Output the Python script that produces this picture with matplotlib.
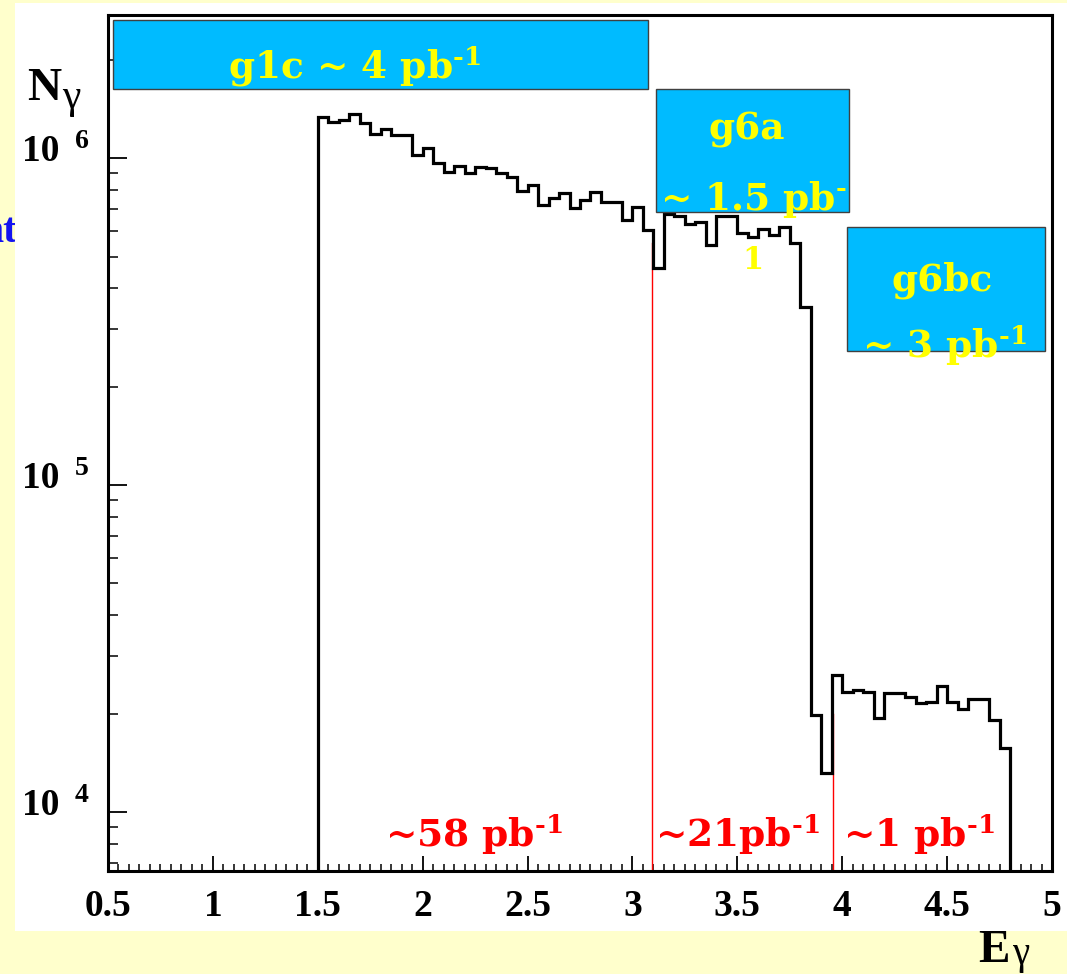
import numpy as np
import matplotlib
matplotlib.use("Agg")
import matplotlib.pyplot as plt
from matplotlib.patches import Rectangle
from matplotlib.ticker import FixedLocator, NullFormatter

# photon yield per energy bin (bins of 0.05 starting at 1.5)
e_start = 1.5
bin_width = 0.05
n_gamma = [
    1.335e6, 1.291e6, 1.307e6, 1.363e6, 1.279e6, 1.184e6, 1.226e6, 1.176e6,
    1.176e6, 1.021e6, 1.073e6, 0.965e6, 0.906e6, 0.945e6, 0.900e6, 0.939e6,
    0.932e6, 0.900e6, 0.875e6, 0.793e6, 0.827e6, 0.718e6, 0.755e6, 0.782e6,
    0.703e6, 0.744e6, 0.787e6, 0.734e6, 0.734e6, 0.646e6, 0.708e6, 0.602e6,
    0.461e6, 0.674e6, 0.665e6, 0.628e6, 0.637e6, 0.542e6, 0.665e6, 0.665e6,
    0.590e6, 0.573e6, 0.607e6, 0.581e6, 0.615e6, 0.550e6, 0.350e6,
    1.98e4, 1.316e4, 2.62e4, 2.33e4, 2.36e4, 2.33e4, 1.94e4, 2.31e4,
    2.31e4, 2.25e4, 2.16e4, 2.17e4, 2.43e4, 2.17e4, 2.06e4, 2.22e4,
    2.22e4, 1.91e4, 1.57e4,
]

# red separators between run periods
cut_energy = [3.095, 3.955]
cut_top = [5.5e5, 2.0e4]

x_ticks = [0.5, 1, 1.5, 2, 2.5, 3, 3.5, 4, 4.5, 5]
x_tick_labels = ["0.5", "1", "1.5", "2", "2.5", "3", "3.5", "4", "4.5", "5"]
y_decades = [4, 5, 6]

sup = "$^{\\text{-1}}$"
lumi_labels = ["~58 pb" + sup, "~21pb" + sup, "~1 pb" + sup]

# superscripts in the same bold serif as the labels
plt.rcParams["mathtext.fontset"] = "custom"
plt.rcParams["mathtext.rm"] = "DejaVu Serif:bold"
plt.rcParams["mathtext.bf"] = "DejaVu Serif:bold"
plt.rcParams["mathtext.it"] = "DejaVu Serif:bold"

W, H = 1067, 974
fig = plt.figure(figsize=(W / 100, H / 100), dpi=100)
fig.patch.set_facecolor("#FFFFCC")

# white slide panel, with clipped blue text behind it
fig.text(18 / W, 1 - 232 / H, "nt", ha="right", va="center", color="#1414F0",
         fontsize=30, fontweight="bold", family="Liberation Serif", zorder=-2)
fig.add_artist(Rectangle((15 / W, 1 - 931 / H), 1 - 15 / W, 928 / H,
                         transform=fig.transFigure, facecolor="white",
                         edgecolor="none", zorder=-1))

ax = fig.add_axes([108 / W, 1 - 871 / H, 944 / W, 856 / H])
ax.set_facecolor("white")

edges = e_start + bin_width * np.arange(len(n_gamma) + 1)
ax.stairs(n_gamma, edges, baseline=1.0, color="black", linewidth=2.3, zorder=3)
for xe, yt in zip(cut_energy, cut_top):
    ax.plot([xe, xe], [1.0, yt], color="red", linewidth=1.0, zorder=2)

ax.set_yscale("log")
ax.set_xlim(0.5, 5)
ax.set_ylim(6.6e3, 2.74e6)

for side in ["left", "bottom", "top", "right"]:
    ax.spines[side].set_linewidth(2.2)

serif_bold = dict(family="Liberation Serif", fontweight="bold")

ax.xaxis.set_major_locator(FixedLocator(x_ticks))
ax.xaxis.set_minor_locator(FixedLocator(np.arange(0.5, 5.001, 0.05)))
ax.set_xticklabels(x_tick_labels, fontsize=27, **serif_bold)
ax.tick_params(axis="x", which="major", direction="in", length=11, width=1.3, pad=13)
ax.tick_params(axis="x", which="minor", direction="in", length=5, width=1.1)

minor_y = [m * 10.0 ** d for d in [3, 4, 5, 6] for m in range(2, 10)]
ax.yaxis.set_major_locator(FixedLocator([10.0 ** d for d in y_decades]))
ax.yaxis.set_minor_locator(FixedLocator(minor_y))
ax.yaxis.set_major_formatter(NullFormatter())
ax.yaxis.set_minor_formatter(NullFormatter())
ax.tick_params(axis="y", which="major", direction="in", length=14, width=1.3)
ax.tick_params(axis="y", which="minor", direction="in", length=7, width=1.1)

for d in y_decades:
    ax.annotate("10", xy=(0, 10.0 ** d), xycoords=("axes fraction", "data"),
                xytext=(-49, 7), textcoords="offset pixels", ha="right",
                va="center", fontsize=27, **serif_bold)
    ax.annotate(str(d), xy=(0, 10.0 ** d), xycoords=("axes fraction", "data"),
                xytext=(-26, 17), textcoords="offset pixels", ha="center",
                va="center", fontsize=20, **serif_bold)

# axis titles
fig.text(27 / W, 1 - 100 / H, "N", fontsize=34, ha="left", va="baseline", **serif_bold)
fig.text(62 / W, 1 - 108 / H, "\u03b3", fontsize=30, ha="left", va="baseline",
         family="Liberation Serif")
fig.text(978 / W, 1 - 962 / H, "E", fontsize=34, ha="left", va="baseline", **serif_bold)
fig.text(1012 / W, 1 - 964 / H, "\u03b3", fontsize=28, ha="left", va="baseline",
         family="Liberation Serif")

# run period boxes
box_kw = dict(transform=ax.transAxes, facecolor="#00BBFF", edgecolor="#404040",
              linewidth=1.0, zorder=4, clip_on=False)
ax.add_patch(Rectangle((0.0053, 0.9136), 0.5667, 0.0806, **box_kw))
ax.add_patch(Rectangle((0.5805, 0.7699), 0.2045, 0.1437, **box_kw))
ax.add_patch(Rectangle((0.7828, 0.6075), 0.2098, 0.1448, **box_kw))

txt_kw = dict(transform=ax.transAxes, color="#FFFF00", fontsize=27,
              family="DejaVu Serif", fontweight="bold", va="baseline", zorder=5)
ax.text(0.1271, 0.9264, "g1c ~ 4 pb" + sup, ha="left", **txt_kw)
ax.text(0.677, 0.854, "g6a", ha="center", **txt_kw)
ax.text(0.5847, 0.772, "~ 1.5 pb$^{\\text{-}}$", ha="left", **txt_kw)
ax.text(0.6835, 0.703, "1", ha="center", transform=ax.transAxes, color="#FFFF00",
        fontsize=22, family="DejaVu Serif", fontweight="bold", va="baseline", zorder=5)
ax.text(0.8835, 0.6776, "g6bc", ha="center", **txt_kw)
ax.text(0.7987, 0.599, "~ 3 pb" + sup, ha="left", **txt_kw)

# integrated luminosity per region
lumi_x = [0.2934, 0.5794, 0.7786]
for xl, lab in zip(lumi_x, lumi_labels):
    ax.text(xl, 0.028, lab, transform=ax.transAxes, ha="left", va="baseline",
            color="red", fontsize=27, family="DejaVu Serif", fontweight="bold", zorder=5)

fig.savefig("out.png", dpi=100, facecolor=fig.get_facecolor())
